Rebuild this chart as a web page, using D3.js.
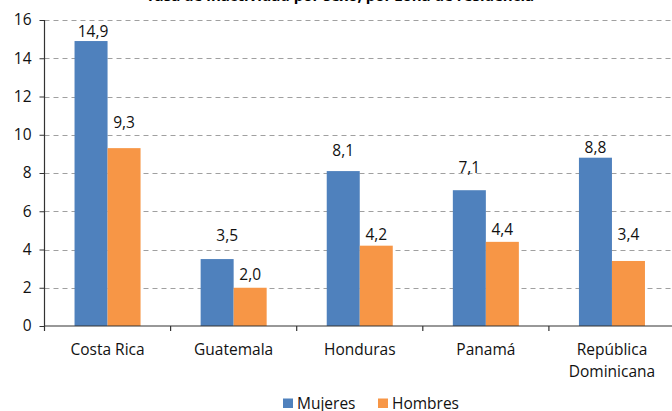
<!DOCTYPE html>
<html>
<head>
<meta charset="utf-8">
<script src="https://cdn.jsdelivr.net/npm/d3@7"></script>
<style>
  html, body { margin: 0; padding: 0; background: #fff; }
  svg { display: block; font-family: "Open Sans", "Noto Sans", sans-serif; }
</style>
</head>
<body>
<svg id="chart" width="672" height="411"></svg>
<script>
// ---- data ----
const categories = ["Costa Rica", "Guatemala", "Honduras", "Panamá", "República Dominicana"];
const seriesNames = ["Mujeres", "Hombres"];
const mujeres = [14.9, 3.5, 8.1, 7.1, 8.8];
const hombres = [9.3, 2.0, 4.2, 4.4, 3.4];
const yTicks = [0, 2, 4, 6, 8, 10, 12, 14, 16];
const titleText = "Tasa de inactividad por sexo, por zona de residencia";

// ---- layout / style (label placement as in the reference) ----
const colors = ["#4F81BD", "#F79646"];
const labelLift = [[10, 24, 21, 23, 11], [26, 14, 12, 13, 27]];
const labelShift = [[2, 10, 0, 0, 0], [0, 0, 0, 0, 0]];

const svg = d3.select("#chart");
const W = 672, H = 411;
const m = { left: 44.5, right: -3, top: 20, bottom: 85 };
const plotR = W - m.right;
const plotB = H - m.bottom;

const x = d3.scaleBand().domain(categories).range([m.left, plotR]).paddingInner(0).paddingOuter(0);
const x1 = d3.scaleBand().domain(seriesNames).range([0, x.bandwidth()]).paddingInner(0).paddingOuter(0.91);
const y = d3.scaleLinear().domain([0, 16]).range([plotB, m.top]);

// title (clipped at top as in the reference)
svg.append("text")
  .attr("x", 340).attr("y", 1.2)
  .attr("text-anchor", "middle")
  .attr("font-size", 15).attr("font-weight", "bold")
  .attr("fill", "#000")
  .text(titleText);

// gridlines
svg.append("g").selectAll("line").data(yTicks.filter(d => d > 0)).join("line")
  .attr("x1", m.left).attr("x2", W)
  .attr("y1", d => Math.round(y(d)) + 0.5).attr("y2", d => Math.round(y(d)) + 0.5)
  .attr("stroke", "#a0a0a0").attr("stroke-width", 1).attr("stroke-dasharray", "5,4");

// bars
const series = [mujeres, hombres];
const g = svg.append("g");
series.forEach((vals, si) => {
  g.selectAll(null).data(vals).join("rect")
    .attr("x", (d, i) => x(categories[i]) + x1(seriesNames[si]))
    .attr("width", x1.bandwidth())
    .attr("y", d => y(d))
    .attr("height", d => plotB - y(d))
    .attr("fill", colors[si]);
});

// value labels
series.forEach((vals, si) => {
  g.selectAll(null).data(vals).join("text")
    .attr("x", (d, i) => x(categories[i]) + x1(seriesNames[si]) + x1.bandwidth() / 2 + labelShift[si][i])
    .attr("y", (d, i) => y(d) - labelLift[si][i])
    .attr("text-anchor", "middle")
    .attr("dominant-baseline", "central")
    .attr("font-size", 15.5).attr("fill", "#111")
    .text(d => d3.format(".1f")(d).replace(".", ","));
});

// y axis
const yAxis = svg.append("g").attr("transform", `translate(${m.left},0)`)
  .call(d3.axisLeft(y).tickValues(yTicks).tickSize(5).tickPadding(8).tickFormat(d3.format("d")));
yAxis.select(".domain").attr("stroke", "#333").attr("stroke-width", 1.2).attr("d", `M0,${m.top}V${plotB}`);
yAxis.selectAll(".tick line").attr("stroke", "#333");
yAxis.selectAll(".tick text").attr("font-size", 15.5).attr("fill", "#111").attr("font-family", "Open Sans, Noto Sans, sans-serif");

// x axis line
svg.append("line").attr("x1", m.left).attr("x2", W).attr("y1", plotB).attr("y2", plotB)
  .attr("stroke", "#333").attr("stroke-width", 1.2);
// category boundary ticks
const bounds = categories.map(c => x(c));
svg.append("g").selectAll("line").data(bounds).join("line")
  .attr("x1", d => d).attr("x2", d => d)
  .attr("y1", plotB).attr("y2", plotB + 5)
  .attr("stroke", "#333").attr("stroke-width", 1.2);

// category labels
const cl = svg.append("g").selectAll("text").data(categories).join("text")
  .attr("x", d => x(d) + x.bandwidth() / 2)
  .attr("y", plotB + 23)
  .attr("text-anchor", "middle")
  .attr("dominant-baseline", "central")
  .attr("font-size", 15.5).attr("fill", "#111");
cl.each(function (d) {
  const words = d === "República Dominicana" ? ["República", "Dominicana"] : [d];
  const t = d3.select(this);
  words.forEach((w, i) => {
    t.append("tspan").attr("x", x(d) + x.bandwidth() / 2).attr("dy", i === 0 ? 0 : 22).text(w);
  });
});

// legend
const legend = svg.append("g");
const legX = [283, 378];
seriesNames.forEach((s, i) => {
  legend.append("rect").attr("x", legX[i]).attr("y", 398.5).attr("width", 10).attr("height", 9.5).attr("fill", colors[i]);
  legend.append("text").attr("x", legX[i] + 14).attr("y", 402.5)
    .attr("dominant-baseline", "central").attr("font-size", 15.5).attr("fill", "#111").text(s);
});
</script>
</body>
</html>
